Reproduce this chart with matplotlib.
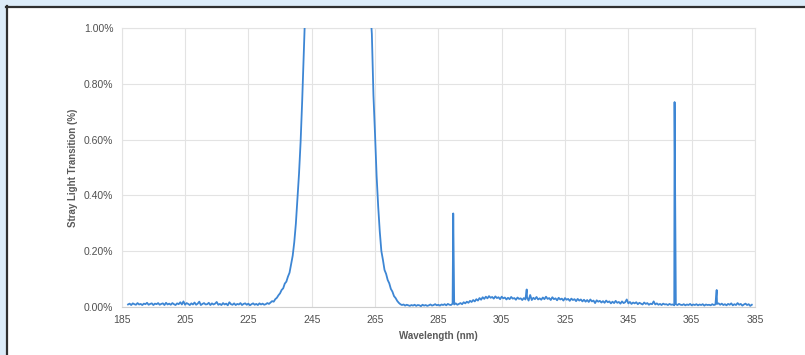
import numpy as np
import matplotlib
matplotlib.use('Agg')
import matplotlib.pyplot as plt
from matplotlib.patches import Rectangle
from matplotlib.lines import Line2D

# --------------------------------
# Data (values in %), 0.5 nm sampling
# --------------------------------
start_nm = 187.0
step_nm = 0.5

stray_light = [
    0.008, 0.011, 0.006, 0.012, 0.009, 0.007, 0.013, 0.008, 0.010, 0.006,  # 187
    0.011, 0.009, 0.014, 0.007, 0.010, 0.012, 0.006, 0.011, 0.009, 0.013,  # 192
    0.007, 0.010, 0.012, 0.006, 0.014, 0.008, 0.011, 0.007, 0.013, 0.009,  # 197
    0.006, 0.012, 0.009, 0.016, 0.008, 0.019, 0.007, 0.013, 0.010, 0.006,  # 202
    0.012, 0.008, 0.015, 0.007, 0.011, 0.018, 0.006, 0.010, 0.013, 0.008,  # 207
    0.009, 0.014, 0.006, 0.012, 0.008, 0.011, 0.017, 0.007, 0.010, 0.006,  # 212
    0.013, 0.008, 0.011, 0.005, 0.016, 0.009, 0.007, 0.012, 0.006, 0.010,  # 217
    0.008, 0.013, 0.006, 0.010, 0.012, 0.007, 0.011, 0.005, 0.009, 0.012,  # 222
    0.007, 0.010, 0.006, 0.012, 0.008, 0.011, 0.007, 0.009, 0.013, 0.010,  # 227
    0.015, 0.020, 0.018, 0.027, 0.032, 0.041, 0.048, 0.060, 0.066, 0.083,  # 232
    0.090, 0.108, 0.122, 0.152, 0.183, 0.232, 0.298, 0.386, 0.478, 0.592,  # 237
    0.740, 0.905, 1.080, 1.350, 1.700, 2.200, 2.800, 3.400, 4.000, 4.600,  # 242
    5.100, 5.500, 5.800, 6.000, 6.100, 6.150, 6.200, 6.150, 6.100, 6.000,  # 247
    5.900, 5.750, 5.600, 5.400, 5.200, 4.950, 4.700, 4.400, 4.100, 3.800,  # 252
    3.500, 3.200, 2.900, 2.600, 2.350, 2.100, 1.900, 1.750, 1.620, 1.500,  # 257
    1.400, 1.280, 1.160, 1.070, 0.980, 0.760, 0.620, 0.470, 0.360, 0.270,  # 262
    0.200, 0.168, 0.132, 0.118, 0.096, 0.084, 0.064, 0.054, 0.038, 0.031,  # 267
    0.021, 0.014, 0.009, 0.006, 0.008, 0.004, 0.007, 0.005, 0.003, 0.006,  # 272
    0.004, 0.007, 0.003, 0.006, 0.005, 0.002, 0.007, 0.004, 0.006, 0.003,  # 277
    0.005, 0.008, 0.004, 0.006, 0.009, 0.005, 0.007, 0.004, 0.008, 0.006,  # 282
    0.009, 0.005, 0.010, 0.007, 0.006, 0.011, 0.008, 0.012, 0.007, 0.010,  # 287
    0.013, 0.009, 0.016, 0.012, 0.018, 0.014, 0.021, 0.017, 0.024, 0.019,  # 292
    0.027, 0.022, 0.031, 0.025, 0.034, 0.028, 0.036, 0.030, 0.038, 0.032,  # 297
    0.035, 0.029, 0.037, 0.031, 0.034, 0.027, 0.036, 0.030, 0.033, 0.026,  # 302
    0.032, 0.027, 0.035, 0.029, 0.031, 0.025, 0.033, 0.028, 0.030, 0.024,  # 307
    0.031, 0.026, 0.034, 0.022, 0.042, 0.024, 0.032, 0.027, 0.035, 0.026,  # 312
    0.030, 0.025, 0.033, 0.027, 0.036, 0.028, 0.031, 0.024, 0.034, 0.027,  # 317
    0.030, 0.023, 0.032, 0.026, 0.029, 0.022, 0.031, 0.025, 0.028, 0.021,  # 322
    0.029, 0.024, 0.027, 0.020, 0.028, 0.022, 0.026, 0.019, 0.025, 0.018,  # 327
    0.024, 0.017, 0.026, 0.019, 0.022, 0.013, 0.023, 0.018, 0.021, 0.015,  # 332
    0.020, 0.014, 0.022, 0.016, 0.019, 0.012, 0.018, 0.013, 0.021, 0.014,  # 337
    0.017, 0.011, 0.019, 0.013, 0.016, 0.026, 0.012, 0.017, 0.010, 0.015,  # 342
    0.012, 0.016, 0.009, 0.014, 0.011, 0.008, 0.015, 0.010, 0.013, 0.007,  # 347
    0.011, 0.009, 0.019, 0.008, 0.012, 0.007, 0.010, 0.006, 0.011, 0.008,  # 352
    0.009, 0.006, 0.010, 0.007, 0.008, 0.005, 0.009, 0.006, 0.010, 0.007,  # 357
    0.006, 0.009, 0.005, 0.008, 0.006, 0.010, 0.005, 0.008, 0.006, 0.009,  # 362
    0.005, 0.008, 0.006, 0.009, 0.004, 0.008, 0.006, 0.007, 0.005, 0.009,  # 367
    0.006, 0.008, 0.010, 0.012, 0.007, 0.011, 0.006, 0.009, 0.005, 0.010,  # 372
    0.007, 0.012, 0.005, 0.009, 0.006, 0.013, 0.007, 0.010, 0.004, 0.008,  # 377
    0.011, 0.006, 0.009, 0.003, 0.007,                                      # 382
]

# narrow emission-line spikes
spike_nm = [289.7, 312.9, 359.6, 372.9]
spike_val = [0.335, 0.062, 0.735, 0.060]

x_ticks = [185, 205, 225, 245, 265, 285, 305, 325, 345, 365, 385]
y_ticks = [0.0, 0.2, 0.4, 0.6, 0.8, 1.0]

wavelength = start_nm + step_nm * np.arange(len(stray_light))
x = np.concatenate([wavelength, spike_nm])
y = np.concatenate([stray_light, spike_val])
order = np.argsort(x)
x, y = x[order], y[order]

# --------------------------------
# Figure
# --------------------------------
plt.rcParams['font.family'] = ['Liberation Sans', 'DejaVu Sans']

fig = plt.figure(figsize=(8.05, 3.55), dpi=100, facecolor='#dcecf9')
W, H = 805, 355

# white card with dark top/left edge
fig.add_artist(Rectangle((8 / W, 0), 1, 1 - 8 / H, transform=fig.transFigure,
                         facecolor='white', edgecolor='none', zorder=0))
fig.add_artist(Line2D([6 / W, 1], [1 - 6.5 / H, 1 - 6.5 / H], transform=fig.transFigure,
                      color='#2f2f2f', lw=1.6))
fig.add_artist(Line2D([6.5 / W, 6.5 / W], [0, 1 - 6 / H], transform=fig.transFigure,
                      color='#2f2f2f', lw=1.6))

ax = fig.add_axes([121.7 / W, 1 - 306.7 / H, (755 - 121.7) / W, (306.7 - 28.3) / H])
ax.set_facecolor('white')

ax.plot(x, y, color='#3d86d4', lw=1.3, zorder=3)

ax.set_xlim(185, 385)
ax.set_ylim(0, 1.0)
ax.set_xticks(x_ticks)
ax.set_yticks(y_ticks)
ax.set_yticklabels(['{:.2f}%'.format(v) for v in y_ticks])

ax.grid(True, color='#e3e3e3', lw=0.8, zorder=0)
ax.set_axisbelow(True)
for s in ax.spines.values():
    s.set_color('#e3e3e3')
    s.set_linewidth(0.8)
ax.spines['bottom'].set_color('#d0d0d0')

ax.tick_params(length=0, labelsize=7.5, labelcolor='#505050')
ax.tick_params(axis='y', pad=6)
ax.tick_params(axis='x', pad=6)

ax.set_xlabel('Wavelength (nm)', fontsize=7, fontweight='bold', color='#595959', labelpad=4)
ax.set_ylabel('Stray Light Transition (%)', fontsize=7, fontweight='bold', color='#595959', labelpad=4)

plt.savefig('out.png', dpi=100, facecolor=fig.get_facecolor())
plt.close()
